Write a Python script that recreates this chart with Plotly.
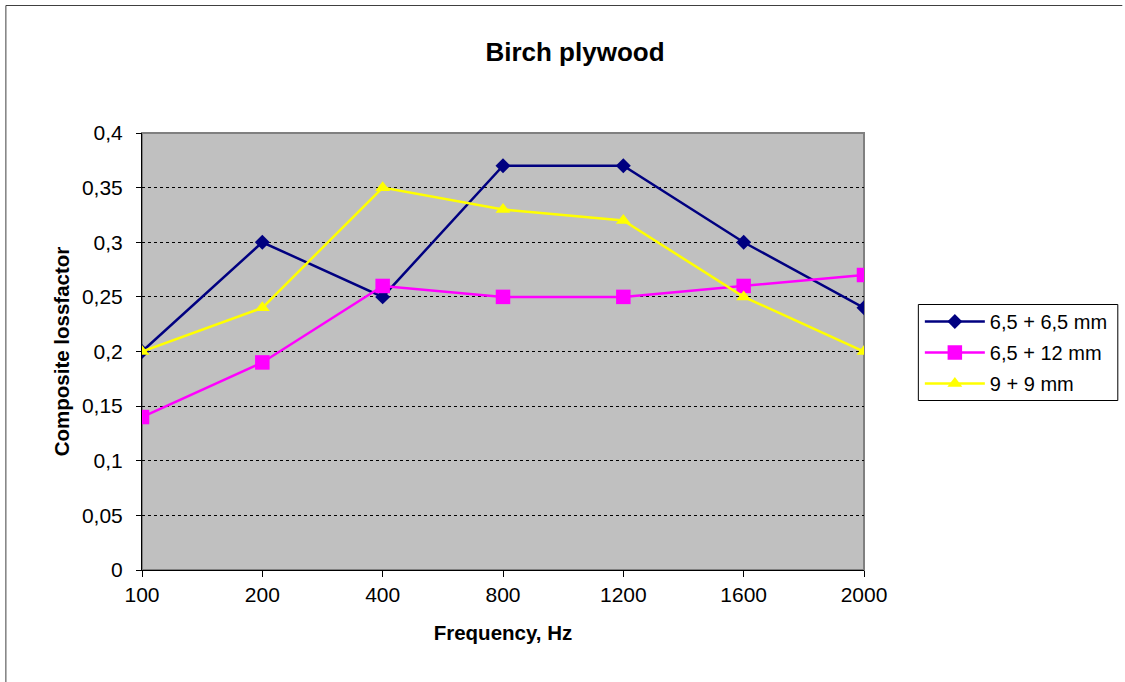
import plotly.graph_objects as go

categories = ["100", "200", "400", "800", "1200", "1600", "2000"]
s1_name = "6,5 + 6,5 mm"
s1 = [0.20, 0.30, 0.25, 0.37, 0.37, 0.30, 0.24]
s2_name = "6,5 + 12 mm"
s2 = [0.14, 0.19, 0.26, 0.25, 0.25, 0.26, 0.27]
s3_name = "9 + 9 mm"
s3 = [0.20, 0.24, 0.35, 0.33, 0.32, 0.25, 0.20]
y_ticks = [0, 0.05, 0.1, 0.15, 0.2, 0.25, 0.3, 0.35, 0.4]
y_labels = ["0", "0,05", "0,1", "0,15", "0,2", "0,25", "0,3", "0,35", "0,4"]

fig = go.Figure()
fig.add_trace(go.Scatter(x=categories, y=s1, name=s1_name, mode="lines+markers", legendgroup="a",
                         line=dict(color="#000080", width=2.5),
                         marker=dict(symbol="diamond", size=11.5, color="#000080")))
fig.add_trace(go.Scatter(x=categories, y=s2, name=s2_name, mode="lines+markers", legendgroup="b",
                         line=dict(color="#FF00FF", width=2.5),
                         marker=dict(symbol="square", size=14.5, color="#FF00FF")))
fig.add_trace(go.Scatter(x=categories, y=s3, name=s3_name, mode="lines+markers", legendgroup="c",
                         line=dict(color="#FFFF00", width=2.5),
                         marker=dict(symbol="triangle-up", size=13, color="#FFFF00")))

font = "Arial, Liberation Sans, sans-serif"
PW, PH = 724, 437
fig.update_layout(
    width=1125, height=682,
    margin=dict(l=142, r=1125 - 866, t=133, b=682 - 570),
    paper_bgcolor="white",
    plot_bgcolor="#C0C0C0",
    font=dict(family=font, size=21, color="black"),
    title=dict(text="<b>Birch plywood</b>", x=575 / 1125, xanchor="center",
               y=1 - 52 / 682, yanchor="middle", font=dict(size=26)),
    showlegend=True,
    legend=dict(x=(922 - 142) / PW, xanchor="left", y=(570 - 302) / PH, yanchor="top",
                bgcolor="rgba(0,0,0,0)", borderwidth=0,
                font=dict(size=20), tracegroupgap=2, itemwidth=60),
    xaxis=dict(type="category", range=[0, 6], showgrid=False,
               showline=True, linecolor="black", linewidth=1,
               ticks="outside", ticklen=6, tickcolor="black",
               tickfont=dict(size=21),
               title=dict(text="<b>Frequency, Hz</b>", font=dict(size=20.5), standoff=20),
               zeroline=False),
    yaxis=dict(range=[0, 0.4], tickvals=y_ticks, ticktext=y_labels,
               showgrid=True, gridcolor="black", griddash="dot", gridwidth=1,
               showline=True, linecolor="black", linewidth=1,
               ticks="outside", ticklen=5, tickcolor="black",
               tickfont=dict(size=21), ticklabelstandoff=9,
               title=dict(text="<b>Composite lossfactor</b>", font=dict(size=20.5), standoff=6),
               zeroline=False),
)

# plot-area border (top/right in gray)
fig.add_shape(type="rect", xref="paper", yref="paper", x0=0, x1=1, y0=0, y1=1,
              line=dict(color="#808080", width=2), layer="below")
# inner half of the crossing x ticks
for c in categories[1:]:
    fig.add_shape(type="line", xref="x", yref="y", ysizemode="pixel", yanchor=0,
                  x0=c, x1=c, y0=0, y1=6, line=dict(color="black", width=1))
# legend frame
fig.add_shape(type="rect", xref="paper", yref="paper",
              x0=(920.5 - 142) / PW, x1=(1120.5 - 142) / PW,
              y0=(570 - 400.5) / PH, y1=(570 - 304.5) / PH,
              line=dict(color="black", width=1), fillcolor="white", layer="above")
# outer chart border (left and top edges only; the rest lies outside the picture)
fig.add_shape(type="line", xref="paper", yref="paper",
              x0=(5.5 - 142) / PW, x1=(5.5 - 142) / PW,
              y0=(570 - 682) / PH, y1=(570 - 5.5) / PH,
              line=dict(color="#404040", width=1))
fig.add_shape(type="line", xref="paper", yref="paper",
              x0=(5.5 - 142) / PW, x1=(1125 - 142) / PW,
              y0=(570 - 5.5) / PH, y1=(570 - 5.5) / PH,
              line=dict(color="#404040", width=1))

fig.write_html("out.html", config={"displayModeBar": False},
               post_script="document.body.style.margin='0';document.body.style.overflow='hidden';")
